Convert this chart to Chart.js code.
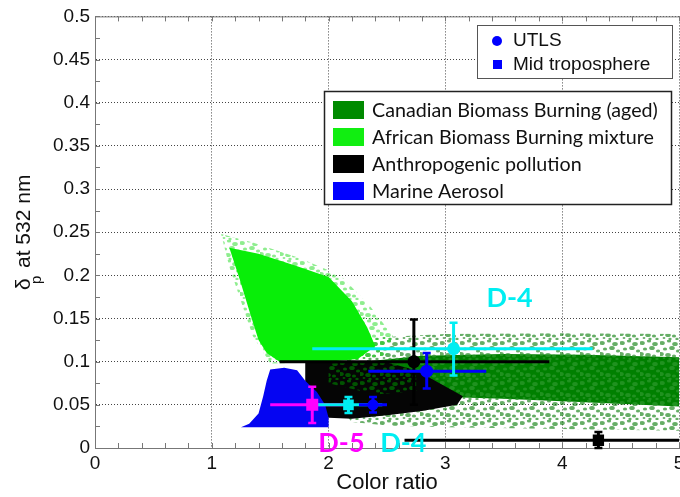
<!DOCTYPE html>
<html>
<head>
<meta charset="utf-8">
<script src="https://cdn.jsdelivr.net/npm/chart.js@4.4.1/dist/chart.umd.min.js"></script>
<style>
html, body { margin: 0; padding: 0; background: #fff; overflow: hidden; width: 680px; height: 497px; }
#wrap { width: 700px; height: 497px; }
</style>
</head>
<body>
<div id="wrap"><canvas id="myChart" width="700" height="497"></canvas></div>
<script>
// aerosol type clouds, outlines (color ratio, depolarization)
var canadianHaloX = [2.0, 2.4, 3.0, 4.0, 5.0, 5.0, 4.0, 3.0, 2.5, 2.2, 2.0];
var canadianHaloY = [0.115, 0.128, 0.132, 0.133, 0.132, 0.02, 0.022, 0.024, 0.026, 0.03, 0.06];
var canadianX = [2.3, 2.8, 3.5, 4.2, 5.0, 5.0, 4.2, 3.5, 3.0, 2.6, 2.3];
var canadianY = [0.1, 0.107, 0.109, 0.108, 0.105, 0.048, 0.053, 0.057, 0.059, 0.062, 0.07];
var anthroX = [1.8, 2.2, 2.5, 2.75, 2.95, 3.15, 3.1, 2.8, 2.5, 2.2, 2.0, 1.8];
var anthroY = [0.1, 0.101, 0.099, 0.09, 0.075, 0.06, 0.05, 0.043, 0.038, 0.034, 0.035, 0.05];
var mixX = [2.0, 2.4, 2.75, 2.75, 2.4, 2.0];
var mixY = [0.098, 0.1, 0.099, 0.066, 0.062, 0.075];
var africanHaloX = [1.08, 1.35, 1.75, 2.1, 2.35, 2.55, 2.5, 2.2, 1.5, 1.35, 1.25, 1.15];
var africanHaloY = [0.248, 0.238, 0.22, 0.2, 0.165, 0.13, 0.108, 0.1, 0.098, 0.13, 0.17, 0.21];
var africanX = [1.15, 1.4, 1.7, 2.0, 2.2, 2.33, 2.4, 2.25, 2.0, 1.58, 1.47, 1.4, 1.33, 1.24];
var africanY = [0.232, 0.225, 0.212, 0.198, 0.17, 0.14, 0.118, 0.103, 0.1, 0.1, 0.11, 0.125, 0.155, 0.195];
var marineX = [1.5, 1.62, 1.73, 1.8, 1.9, 1.97, 2.0, 2.0, 1.25, 1.32, 1.4, 1.44, 1.47];
var marineY = [0.091, 0.093, 0.09, 0.078, 0.065, 0.05, 0.035, 0.024, 0.024, 0.028, 0.04, 0.06, 0.078];

// measurements with error bars
var markerX = [1.86, 2.17, 2.38, 2.73, 2.84, 3.07, 4.31];
var markerY = [0.05, 0.05, 0.05, 0.1, 0.089, 0.115, 0.009];
var markerXLo = [1.5, 1.89, 2.26, 1.58, 2.34, 1.86, 2.65];
var markerXHi = [2.21, 2.46, 2.5, 3.89, 3.35, 4.26, 6.0];
var markerYLo = [0.029, 0.0405, 0.041, 0.05, 0.069, 0.084, 0.0];
var markerYHi = [0.071, 0.059, 0.059, 0.149, 0.11, 0.145, 0.0185];
var markerColor = ['#ff00ff', '#00eef2', '#0000ff', '#000000', '#0000ff', '#00eef2', '#000000'];
var markerShape = ['rect', 'rect', 'circle', 'circle', 'circle', 'circle', 'rect'];
var markerSize = [8.5, 7.5, 5.5, 6.5, 6.5, 6.5, 8];

// flight labels
var labelText = ['D-4', 'D-5', 'D-4'];
var labelX = [3.55, 2.11, 2.64];
var labelY = [0.174, 0.006, 0.006];
var labelColor = ['#00eef2', '#ff00ff', '#00eef2'];

var legendNames = ['Canadian Biomass Burning (aged)', 'African Biomass Burning mixture', 'Anthropogenic pollution', 'Marine Aerosol'];
var legendColors = ['#008a00', '#11ee11', '#000000', '#0000ff'];

var ctx = document.getElementById('myChart').getContext('2d');

// repeating tile of blobs that gives the clouds their grainy look
var blobs = [[2, 3, 2], [9, 1, 1.5], [15, 4, 2], [5, 9, 1.5], [12, 8, 2], [18, 11, 1.5],
             [1, 14, 2], [8, 15, 2], [14, 16, 1.5], [17, 19, 1.2], [10, 19, 1.2], [4, 18, 1]];
function texture(base, dot) {
    var cv = document.createElement('canvas');
    cv.width = 20;
    cv.height = 20;
    var g = cv.getContext('2d');
    if (base) {
        g.fillStyle = base;
        g.fillRect(0, 0, 20, 20);
    }
    g.fillStyle = dot;
    blobs.forEach(function(b) {
        g.beginPath();
        g.ellipse(b[0], b[1], b[2] * 1.4, b[2], 0, 0, Math.PI * 2);
        g.fill();
    });
    return ctx.createPattern(cv, 'repeat');
}

function toPts(xs, ys) {
    return xs.map(function(x, i) { return {x: x, y: ys[i]}; });
}

function cloud(xs, ys, color, order) {
    return {
        data: toPts(xs, ys),
        showLine: true,
        fill: 'shape',
        backgroundColor: color,
        borderColor: 'rgba(0,0,0,0)',
        borderWidth: 0,
        pointRadius: 0,
        tension: 0,
        order: order
    };
}

var errorBars = {
    id: 'errorBars',
    beforeDatasetDraw: function(chart, args) {
        if (args.index !== 0) return;
        var sx = chart.scales.x, sy = chart.scales.y, c = chart.ctx, a = chart.chartArea;
        c.save();
        c.beginPath();
        c.rect(a.left, a.top, a.right - a.left, a.bottom - a.top + 2);
        c.clip();
        for (var i = 0; i < markerX.length; i++) {
            var px = sx.getPixelForValue(markerX[i]);
            var py = sy.getPixelForValue(markerY[i]);
            var y1 = sy.getPixelForValue(markerYLo[i]);
            var y2 = sy.getPixelForValue(markerYHi[i]);
            c.strokeStyle = markerColor[i];
            c.lineWidth = 3;
            c.beginPath();
            c.moveTo(sx.getPixelForValue(markerXLo[i]), py);
            c.lineTo(sx.getPixelForValue(markerXHi[i]), py);
            c.moveTo(px, y1);
            c.lineTo(px, y2);
            c.stroke();
            c.lineWidth = 2.5;
            c.beginPath();
            c.moveTo(px - 4, y1);
            c.lineTo(px + 4, y1);
            c.moveTo(px - 4, y2);
            c.lineTo(px + 4, y2);
            c.stroke();
        }
        c.restore();
    }
};

var decorations = {
    id: 'decorations',
    afterDraw: function(chart) {
        var sx = chart.scales.x, sy = chart.scales.y, c = chart.ctx, a = chart.chartArea;
        c.save();
        // top border and inward minor ticks
        c.strokeStyle = '#777';
        c.lineWidth = 1;
        c.beginPath();
        c.moveTo(a.left, a.top + 0.5);
        c.lineTo(a.right, a.top + 0.5);
        for (var t = 0; t <= 25; t++) {
            var tx = Math.round(sx.getPixelForValue(t * 0.2)) + 0.5;
            c.moveTo(tx, a.bottom);
            c.lineTo(tx, a.bottom - 5);
            c.moveTo(tx, a.top);
            c.lineTo(tx, a.top + 5);
        }
        for (var k = 0; k <= 20; k++) {
            var ty = Math.round(sy.getPixelForValue(k * 0.025)) + 0.5;
            c.moveTo(a.left, ty);
            c.lineTo(a.left + 5, ty);
        }
        c.stroke();

        // flight labels
        c.font = 'bold 27px Lato';
        c.textAlign = 'center';
        c.textBaseline = 'middle';
        for (var i = 0; i < labelText.length; i++) {
            c.fillStyle = labelColor[i];
            c.fillText(labelText[i], sx.getPixelForValue(labelX[i]), sy.getPixelForValue(labelY[i]));
        }

        // axis titles
        c.fillStyle = '#111';
        c.font = '22px "Liberation Sans", Arial, sans-serif';
        c.fillText('Color ratio', (a.left + a.right) / 2, 483);
        c.translate(30, 290);
        c.rotate(-Math.PI / 2);
        c.textAlign = 'left';
        c.textBaseline = 'alphabetic';
        c.font = '21px "Liberation Sans", Arial, sans-serif';
        c.fillText('\u03b4', 0, 0);
        c.font = '15px "Liberation Sans", Arial, sans-serif';
        c.fillText('p', 6, 11);
        c.font = '21px "Liberation Sans", Arial, sans-serif';
        c.fillText('at 532 nm', 22, 0);
        c.setTransform(1, 0, 0, 1, 0, 0);

        // marker legend
        c.fillStyle = '#fff';
        c.fillRect(477, 25, 195, 53);
        c.strokeStyle = '#555';
        c.strokeRect(477.5, 25.5, 195, 53);
        c.fillStyle = '#0000ff';
        c.beginPath();
        c.arc(497, 41, 5, 0, Math.PI * 2);
        c.fill();
        c.fillRect(493, 60, 9, 9);
        c.fillStyle = '#111';
        c.textBaseline = 'middle';
        c.font = '19px "Liberation Sans", Arial, sans-serif';
        c.fillText('UTLS', 513, 41);
        c.fillText('Mid troposphere', 513, 65);

        // aerosol type legend
        c.fillStyle = '#fff';
        c.fillRect(324, 91, 348, 114);
        c.strokeStyle = '#222';
        c.lineWidth = 1.5;
        c.strokeRect(324.5, 91.5, 347, 113);
        c.font = '19.7px Lato';
        for (var j = 0; j < legendNames.length; j++) {
            var cy = 110 + j * 27;
            c.fillStyle = legendColors[j];
            c.fillRect(333, cy - 9, 31, 18);
            c.fillStyle = '#111';
            c.fillText(legendNames[j], 372, cy + 1);
        }
        c.restore();
    }
};

var tickFont = {family: '"Liberation Sans", Arial, sans-serif', size: 19};
function tickLabel(v) { return String(Math.round(v * 1000) / 1000); }

var chart = new Chart(ctx, {
    type: 'scatter',
    data: {
        datasets: [
            {
                data: toPts(markerX, markerY),
                pointStyle: markerShape,
                pointRadius: markerSize,
                pointBackgroundColor: markerColor,
                pointBorderColor: markerColor,
                pointBorderWidth: 0,
                order: 0
            },
            cloud(marineX, marineY, '#0505f2', 1),
            cloud(africanX, africanY, '#08ee08', 2),
            cloud(africanHaloX, africanHaloY, texture(null, 'rgba(30,220,30,0.5)'), 3),
            cloud(mixX, mixY, texture(null, 'rgba(0,110,0,0.75)'), 4),
            cloud(anthroX, anthroY, '#050505', 5),
            cloud(canadianX, canadianY, texture('#008000', 'rgba(40,150,40,0.8)'), 6),
            cloud(canadianHaloX, canadianHaloY, texture(null, 'rgba(0,120,0,0.6)'), 7)
        ]
    },
    options: {
        responsive: false,
        animation: false,
        devicePixelRatio: 1,
        layout: {padding: {top: 16, right: 21, bottom: 0, left: 0}},
        plugins: {legend: {display: false}, tooltip: {enabled: false}},
        scales: {
            x: {
                type: 'linear', min: 0, max: 5, z: 1,
                afterFit: function(s) { s.height = 49; },
                ticks: {stepSize: 1, font: tickFont, color: '#111', padding: 4, callback: tickLabel},
                grid: {color: '#444', drawTicks: false},
                border: {color: '#777', dash: [1, 2]}
            },
            y: {
                min: 0, max: 0.5, z: 1,
                afterFit: function(s) { s.width = 95; },
                ticks: {stepSize: 0.05, font: tickFont, color: '#111', padding: 5, callback: tickLabel},
                grid: {color: '#444', drawTicks: false},
                border: {color: '#777', dash: [1, 2]}
            }
        }
    },
    plugins: [errorBars, decorations]
});
</script>
</body>
</html>
